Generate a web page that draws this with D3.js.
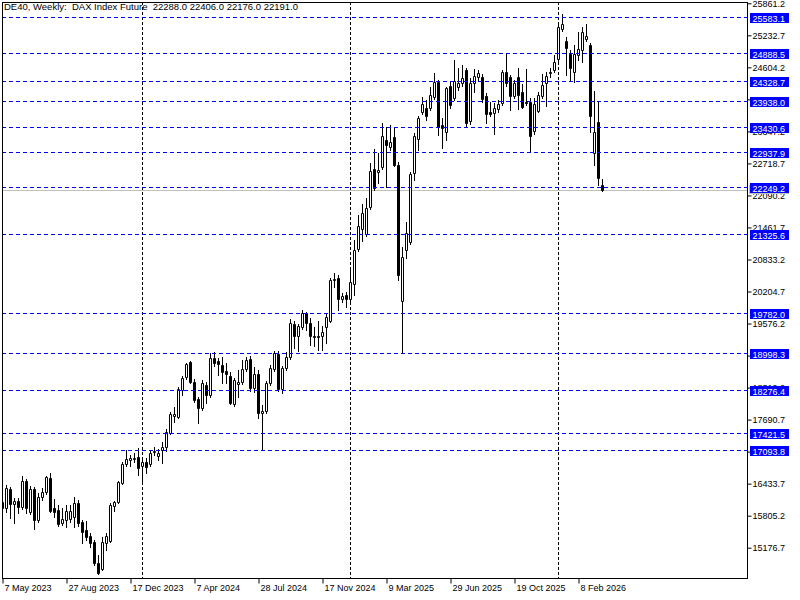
<!DOCTYPE html>
<html>
<head>
<meta charset="utf-8">
<script src="https://cdn.jsdelivr.net/npm/d3@7"></script>
<style>
  html, body { margin: 0; padding: 0; background: #fff; }
  svg { display: block; }
</style>
</head>
<body>
<svg id="chart" width="800" height="600"></svg>
<script>
const title = "DE40, Weekly:  DAX Index Future  22288.0 22406.0 22176.0 22191.0";
const firstWeek = "2023-05-07";

// weekly OHLC
const open = [15956,15956,16329,16034,16093,15976,16486,15877,16329,15720,16172,16270,16545,15956,15917,15662,15720,15740,15779,16054,
  15681,15524,15406,15289,14877,14759,15269,15308,15995,16074,16447,16820,16898,16918,16957,16780,16859,16820,17055,16977,
  17094,17153,17428,17761,17742,18272,18527,18821,18429,18095,17918,18370,18174,18900,18841,18763,18645,18547,17997,18390,
  18429,18684,18880,18311,18586,17820,17860,18409,18684,18978,18291,18704,18919,19567,19332,19508,19783,19587,19332,19332,
  19332,19508,19626,20431,20470,20058,20136,20058,20352,21039,21432,21333,21863,22609,22550,22648,23178,23041,23237,22688,
  20019,21019,21177,22531,23198,23728,23806,23806,24022,24317,23473,23335,24238,24003,24219,24297,24552,23551,24297,24415,
  24415,24042,23728,23709,23787,23904,24513,24415,24042,24415,24120,23924,23924,23355,23748,24042,24297,24493,24552,24767,
  25357,25121,24866,24513,24846,24945,25161,25043,22923,23532,22288];
const high = [16152,16407,16368,16152,16152,16584,16525,16388,16368,16250,16348,16584,16643,16133,16015,15956,16015,16015,16172,16113,
  15720,15701,15465,15328,15034,15387,15465,16054,16093,16486,16859,17094,16996,17035,17133,16957,16937,17094,17153,17114,
  17251,17506,17840,17938,18331,18547,18802,18841,18488,18135,18468,18429,18998,19018,18900,18919,18802,18625,18507,18664,
  18861,18919,18939,18723,18664,17977,18448,18763,19037,19037,18743,19018,19665,19626,19567,19842,19803,19685,19508,19626,
  19528,19783,20470,20568,20529,20176,20195,20627,21216,21706,21922,22040,22727,23002,22923,23512,23433,23473,23433,22747,
  21078,21569,22550,23316,23650,24022,23963,24219,24493,24356,23610,24219,24317,24748,24591,24650,24591,24395,24572,24552,
  24474,24101,23924,23904,23963,24552,24886,24454,24356,24591,24277,24572,24003,24003,24120,24474,24513,24591,24846,25455,
  25651,25200,24945,25043,25298,25396,25455,25082,24140,23944,22406];
const low = [15819,15877,15760,15662,15858,15936,15858,15838,15544,15681,16113,16231,15877,15779,15603,15622,15583,15681,15583,15603,
  15269,15328,15190,14838,14660,14739,15132,15289,15897,16054,16427,16780,16780,16859,16604,16466,16643,16780,16996,16898,
  16839,17075,17408,17644,17722,18174,18488,18409,18036,17624,17879,18016,18135,18743,18566,18409,18409,17997,17957,18135,
  18390,18645,18252,18233,17722,17093.8,17820,18370,18645,18252,18213,18664,18880,19096,19037,19469,19449,19155,19135,19057,
  19057,19194,19606,20293,19842,19999,19901,20019,20136,21000,21196,21294,21824,22197,22334,22609,22256,22982,22668,20431,
  18998.3,20862,21137,22393,22982,23689,23571,23767,23983,23277,23021,23178,23806,23963,24160,24238,23433,23490,24120,24356,
  23924,23512,23650,23296,23728,23865,24238,23767,24003,23787,23806,23865,22937.9,23296,23728,24003,23846,24415,24513,24729,
  25318,24454,24336,24317,24748,24709,25121,23335,22688,22295,22176];
const close = [16074,16348,16034,16093,15976,16486,15956,16329,15720,16172,16270,16565,15897,15877,15642,15740,15897,15897,16054,15662,
  15485,15387,15269,14877,14680,15289,15406,16015,16074,16466,16820,16918,16937,16937,16741,16859,16761,17035,17075,17035,
  17153,17448,17801,17801,18291,18507,18782,18429,18076,17918,18409,18174,18900,18802,18782,18625,18586,18016,18468,18429,
  18684,18861,18311,18586,17820,17860,18409,18704,18998,18291,18704,18919,19587,19332,19528,19783,19587,19332,19312,19312,
  19410,19705,20431,20450,20058,20117,20058,20391,21019,21491,21746,21844,22570,22236,22590,23257,23080,23139,22688,20529,
  20882,21353,22511,23257,23610,23885,23650,24061,24317,23433,23414,24199,23865,24336,24297,24395,23512,24297,24434,24493,
  23983,23689,23689,23806,23885,24513,24297,24042,24297,24061,23826,23904,23257,23885,24061,24258,24434,24513,24709,25396,
  25455,24984,24591,24866,24964,25298,25219,23650,23335,22433,22191];

const priceTicks = [25861.2,25232.7,24604.2,23975.7,23347.2,22718.7,22090.2,21461.7,20833.2,20204.7,19576.2,18947.7,
  18319.2,17690.7,17062.2,16433.7,15805.2,15176.7];
const dateLabels = ["7 May 2023","27 Aug 2023","17 Dec 2023","7 Apr 2024","28 Jul 2024","17 Nov 2024",
  "9 Mar 2025","29 Jun 2025","19 Oct 2025","8 Feb 2026"];
const separators = ["2024-01-07","2025-01-05","2026-01-04"];
const levels = [25583.1,24888.5,24328.7,23938.0,23430.6,22937.9,22249.2,21325.6,19782.0,18998.3,18276.4,17421.5,17093.8];
const bid = 22191.0;

const font = "'Liberation Sans', Arial, sans-serif";
const plot = {left: 2, right: 747, top: 2, bottom: 578};
const barStep = 4;

const parseIso = d3.utcParse("%Y-%m-%d");
const parseLabel = d3.utcParse("%d %b %Y");
const fmtLabel = d3.utcFormat("%-d %b %Y");
const start = parseIso(firstWeek);
const dates = close.map((_, i) => d3.utcWeek.offset(start, i));

const x = d3.scaleUtc()
  .domain([start, new Date(+start + (plot.right - plot.left) / barStep * 7 * 864e5)])
  .range([plot.left, plot.right]);
const y = d3.scaleLinear()
  .domain(d3.extent(priceTicks))
  .range([547.7, 3.3]);

const svg = d3.select("#chart");
svg.append("rect").attr("width", 800).attr("height", 600).attr("fill", "#fff");

svg.append("clipPath").attr("id", "clip")
  .append("rect")
  .attr("x", plot.left + 1).attr("y", plot.top + 1)
  .attr("width", plot.right - plot.left - 1).attr("height", plot.bottom - plot.top - 1);

const inner = svg.append("g").attr("clip-path", "url(#clip)");

// period separators
inner.selectAll("line.sep")
  .data(separators.map(parseIso))
  .join("line")
    .attr("class", "sep")
    .attr("x1", d => Math.round(x(d)) + 0.5)
    .attr("x2", d => Math.round(x(d)) + 0.5)
    .attr("y1", plot.top)
    .attr("y2", plot.bottom)
    .attr("stroke", "#000")
    .attr("stroke-dasharray", "3,2");

// bid line
inner.append("line")
  .attr("x1", plot.left).attr("x2", plot.right)
  .attr("y1", Math.round(y(bid)) + 0.5).attr("y2", Math.round(y(bid)) + 0.5)
  .attr("stroke", "#c0c0c0");

// candles
const idx = d3.range(close.length);
const cx = i => Math.round(x(dates[i]));

inner.selectAll("line.wick")
  .data(idx)
  .join("line")
    .attr("class", "wick")
    .attr("x1", i => cx(i) + 0.5)
    .attr("x2", i => cx(i) + 0.5)
    .attr("y1", i => Math.round(y(high[i])))
    .attr("y2", i => Math.round(y(low[i])) + 1)
    .attr("stroke", "#000");

inner.selectAll("path.body")
  .data(idx)
  .join("path")
    .attr("class", "body")
    .attr("d", i => {
      const top = Math.round(y(Math.max(open[i], close[i]))) + 0.5;
      const bot = Math.round(y(Math.min(open[i], close[i]))) + 0.5;
      return `M${cx(i) - 0.5},${top}h2V${bot}h-2Z`;
    })
    .attr("fill", i => close[i] >= open[i] ? "#fff" : "#000")
    .attr("stroke", "#000");

// horizontal levels
inner.selectAll("line.level")
  .data(levels)
  .join("line")
    .attr("class", "level")
    .attr("x1", plot.left)
    .attr("x2", plot.right)
    .attr("y1", d => Math.round(y(d)) + 0.5)
    .attr("y2", d => Math.round(y(d)) + 0.5)
    .attr("stroke", "#0000ff")
    .attr("stroke-dasharray", "4,3");

// frame
svg.append("rect")
  .attr("x", plot.left + 0.5).attr("y", plot.top + 0.5)
  .attr("width", plot.right - plot.left).attr("height", plot.bottom - plot.top)
  .attr("fill", "none").attr("stroke", "#000");

// price axis
const yAxis = svg.append("g")
  .attr("transform", `translate(${plot.right + 0.5},0)`)
  .call(d3.axisRight(y).tickValues(priceTicks).tickSize(4).tickPadding(1).tickFormat(d3.format(".1f")));
yAxis.select(".domain").remove();
yAxis.attr("font-family", font).attr("font-size", 9);
yAxis.selectAll("text").attr("fill", "#000");

// time axis
const xAxis = svg.append("g")
  .attr("transform", `translate(0,${plot.bottom + 0.5})`)
  .call(d3.axisBottom(x).tickValues(dateLabels.map(parseLabel)).tickSize(5).tickPadding(1).tickFormat(fmtLabel));
xAxis.select(".domain").remove();
xAxis.attr("font-family", font).attr("font-size", 9);
xAxis.selectAll(".tick line").attr("x1", 0.5).attr("x2", 0.5);
xAxis.selectAll("text").attr("text-anchor", "start").attr("x", 2).attr("fill", "#000");

// bid label (mostly hidden under the level label)
svg.append("rect")
  .attr("x", plot.right + 2).attr("y", Math.round(y(bid)) - 5)
  .attr("width", 40).attr("height", 9)
  .attr("fill", "#c0c0c0");

// level labels
const tags = svg.append("g").attr("font-family", font).attr("font-size", 9);
tags.selectAll("rect")
  .data(levels)
  .join("rect")
    .attr("x", plot.right + 3)
    .attr("y", d => Math.round(y(d)) - 4)
    .attr("width", 39)
    .attr("height", 10)
    .attr("fill", "#0000ff");
tags.selectAll("text")
  .data(levels)
  .join("text")
    .attr("x", plot.right + 5.5)
    .attr("y", d => Math.round(y(d)) + 4.5)
    .attr("fill", "#fff")
    .text(d3.format(".1f"));

// title
svg.append("text")
  .attr("x", 4).attr("y", 10)
  .attr("font-family", font).attr("font-size", 9.5)
  .style("white-space", "pre")
  .attr("fill", "#000")
  .text(title);
</script>
</body>
</html>
